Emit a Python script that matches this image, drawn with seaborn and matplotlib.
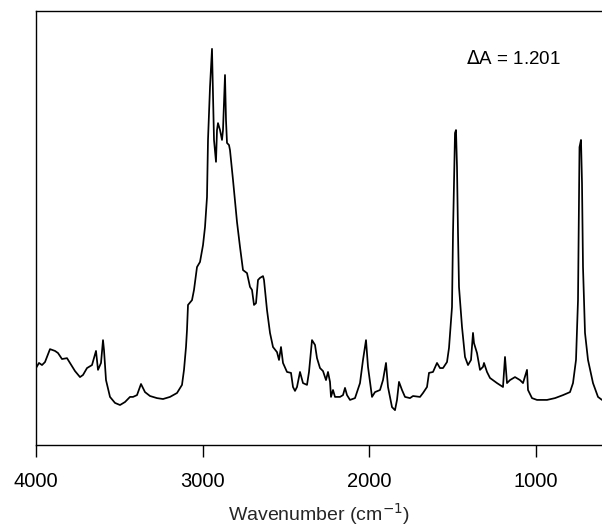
import matplotlib
matplotlib.use("Agg")
import matplotlib.pyplot as plt
import seaborn as sns
import pandas as pd

# IR absorbance spectrum: wavenumber (cm^-1) and absorbance
wavenumber = [
    4000, 3982, 3964, 3946, 3916, 3886, 3868, 3844, 3814, 3796, 3766, 3736, 3718, 3694, 3664,
    3640, 3628, 3610, 3598, 3592, 3580, 3556, 3526, 3496, 3466, 3436, 3418, 3394, 3370, 3346,
    3316, 3274, 3238, 3196, 3154, 3124, 3112, 3100, 3094, 3088, 3064, 3052, 3034, 3016, 2998,
    2986, 2974, 2968, 2956, 2944, 2938, 2932, 2920, 2914, 2908, 2896, 2884, 2878, 2866, 2860,
    2854, 2842, 2836, 2818, 2794, 2776, 2758, 2734, 2716, 2704, 2692, 2680, 2668, 2656, 2638,
    2632, 2614, 2596, 2578, 2554, 2542, 2530, 2518, 2494, 2470, 2458, 2446, 2434, 2416, 2398,
    2374, 2362, 2344, 2326, 2314, 2296, 2278, 2260, 2248, 2236, 2230, 2218, 2206, 2176, 2158,
    2146, 2134, 2116, 2086, 2056, 2038, 2020, 2008, 1984, 1966, 1936, 1918, 1900, 1888, 1864,
    1846, 1834, 1822, 1804, 1786, 1756, 1738, 1696, 1678, 1654, 1642, 1618, 1594, 1576, 1558,
    1534, 1522, 1504, 1498, 1486, 1480, 1474, 1468, 1462, 1444, 1426, 1408, 1390, 1378, 1372,
    1354, 1336, 1318, 1312, 1294, 1276, 1234, 1198, 1186, 1174, 1156, 1126, 1096, 1078, 1054,
    1048, 1024, 994, 934, 886, 838, 796, 778, 760, 748, 742, 739, 730, 724, 718,
    706, 688, 658, 628, 604,
]
absorbance = [
    0.256, 0.273, 0.266, 0.276, 0.319, 0.313, 0.306, 0.286, 0.289, 0.273, 0.246, 0.226, 0.233, 0.256, 0.266,
    0.313, 0.250, 0.273, 0.349, 0.316, 0.216, 0.160, 0.140, 0.133, 0.143, 0.160, 0.160, 0.166, 0.203, 0.176,
    0.163, 0.156, 0.153, 0.160, 0.173, 0.200, 0.250, 0.326, 0.383, 0.466, 0.482, 0.516, 0.592, 0.609, 0.665,
    0.725, 0.825, 1.015, 1.191, 1.318, 1.158, 1.015, 0.942, 1.048, 1.071, 1.048, 1.015, 1.048, 1.231, 1.081,
    1.005, 0.998, 0.981, 0.882, 0.742, 0.659, 0.582, 0.572, 0.526, 0.516, 0.466, 0.472, 0.549, 0.556, 0.562,
    0.549, 0.449, 0.373, 0.326, 0.309, 0.283, 0.326, 0.273, 0.243, 0.240, 0.193, 0.180, 0.193, 0.243, 0.206,
    0.200, 0.243, 0.349, 0.333, 0.289, 0.256, 0.246, 0.216, 0.243, 0.210, 0.160, 0.183, 0.160, 0.160, 0.166,
    0.190, 0.166, 0.150, 0.156, 0.206, 0.283, 0.349, 0.260, 0.160, 0.176, 0.183, 0.216, 0.273, 0.193, 0.126,
    0.116, 0.150, 0.210, 0.183, 0.160, 0.156, 0.163, 0.160, 0.173, 0.193, 0.240, 0.243, 0.273, 0.256, 0.256,
    0.276, 0.323, 0.459, 0.705, 1.038, 1.048, 0.925, 0.705, 0.526, 0.393, 0.293, 0.266, 0.283, 0.373, 0.339,
    0.306, 0.250, 0.260, 0.273, 0.243, 0.223, 0.206, 0.193, 0.293, 0.206, 0.216, 0.226, 0.216, 0.206, 0.250,
    0.183, 0.156, 0.150, 0.150, 0.156, 0.166, 0.176, 0.206, 0.283, 0.482, 0.815, 0.991, 1.015, 0.872, 0.592,
    0.373, 0.283, 0.206, 0.160, 0.150,
]
x_ticks = [4000, 3000, 2000, 1000]
delta_label = r"$\mathit{\Delta}$A = 1.201"

sns.set_style("ticks")
plt.rcParams["font.family"] = ["Liberation Sans", "DejaVu Sans"]

spectrum = pd.DataFrame({"wavenumber": wavenumber, "absorbance": absorbance})

fig = plt.figure(figsize=(6.02, 5.29), dpi=100)
ax = fig.add_axes([36 / 602, 84 / 529, 566 / 602, 434 / 529])

sns.lineplot(data=spectrum, x="wavenumber", y="absorbance", sort=False,
             color="black", linewidth=1.25, ax=ax)

ax.set_xlim(4000, 604)
ax.set_ylim(0, 1.444)
ax.set_xticks(x_ticks)
ax.set_xticklabels([str(t) for t in x_ticks])
ax.set_yticks([])
ax.set_ylabel("")
ax.tick_params(axis="x", direction="out", length=8.5, width=1, pad=11,
               labelsize=14.5, colors="black")
ax.set_xlabel("Wavenumber (cm$^{-1}$)", fontsize=14, labelpad=7)

for side in ("left", "top", "bottom"):
    ax.spines[side].set_color("black")
    ax.spines[side].set_linewidth(1.0)
ax.spines["right"].set_visible(False)

ax.text(0.76, 0.89, delta_label, transform=ax.transAxes, fontsize=13.5,
        ha="left", va="center", color="black")

fig.savefig("out.png", dpi=100, facecolor="white")
